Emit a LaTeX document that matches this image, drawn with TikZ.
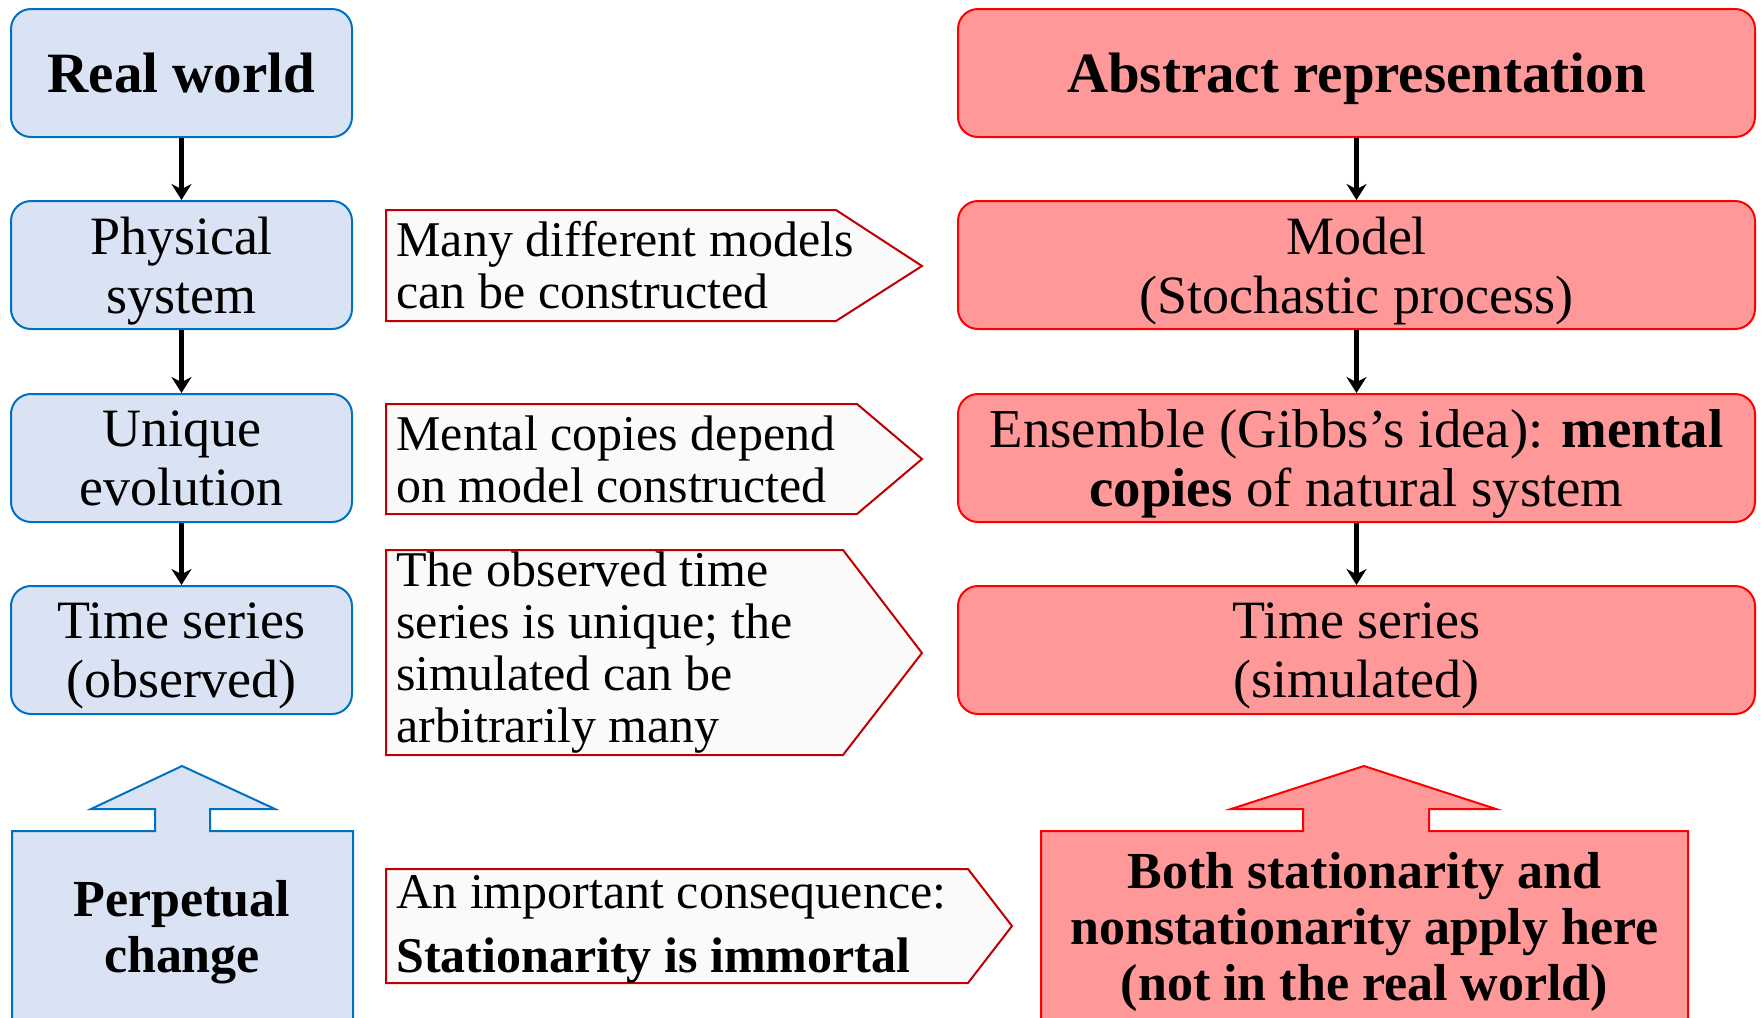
\documentclass[tikz,border=0pt]{standalone}
\usepackage{fontspec}
\setmainfont{Liberation Serif}
\usetikzlibrary{arrows.meta}
\definecolor{realfill}{HTML}{DAE3F3}
\definecolor{realline}{HTML}{0070C0}
\definecolor{absfill}{HTML}{FF9999}
\definecolor{absline}{HTML}{FF0000}
\definecolor{notefill}{HTML}{FAFAFA}
\definecolor{noteline}{HTML}{C00000}

\begin{document}
\begin{tikzpicture}[x=0.5pt,y=-0.5pt,
	realbox/.style={draw=realline, fill=realfill, line width=1pt, rounded corners=10pt,
		minimum width=170.5pt, minimum height=64pt, align=center, text depth=0pt,
		font=\fontsize{27}{29.5}\selectfont},
	absbox/.style={realbox, draw=absline, fill=absfill, minimum width=398.5pt},
	titletext/.style={font=\fontsize{28.5}{30}\selectfont\bfseries},
	note/.style={draw=noteline, fill=notefill, line width=1pt},
	notetext/.style={anchor=west, inner sep=0pt, align=left, font=\fontsize{25}{26}\selectfont},
	bigtext/.style={inner sep=0pt, align=center, font=\fontsize{26}{28}\selectfont\bfseries},
	flow/.style={-{Stealth[length=8pt,width=10pt]}, line width=2.6pt}]

	\useasboundingbox (0,0) rectangle (1763,1018);
	\clip (0,0) rectangle (1763,1018);

	% real world column
	\node [realbox, titletext] (real) at (181.5,73) {Real world};
	\node [realbox] (phys) at (181.5,265) {Physical\\system};
	\node [realbox] (uniq) at (181.5,458) {Unique\\evolution};
	\node [realbox] (obs) at (181.5,650) {Time series\\(observed)};

	% abstract column
	\node [absbox, titletext] (abs) at (1356.5,73) {Abstract representation};
	\node [absbox] (model) at (1356.5,265) {Model\\(Stochastic process)};
	\node [absbox, font=\fontsize{27.4}{29.5}\selectfont] (ens) at (1356.5,458) {Ensemble (Gibbs’s idea): \textbf{mental}\\\textbf{copies} of natural system};
	\node [absbox] (sim) at (1356.5,650) {Time series\\(simulated)};

	\draw [flow] (real.south) -- (phys.north);
	\draw [flow] (phys.south) -- (uniq.north);
	\draw [flow] (uniq.south) -- (obs.north);
	\draw [flow] (abs.south) -- (model.north);
	\draw [flow] (model.south) -- (ens.north);
	\draw [flow] (ens.south) -- (sim.north);

	% notes in the middle
	\draw [note] (386,210) -- (836,210) -- (922,266) -- (836,321) -- (386,321) -- cycle;
	\node [notetext] (models) at (396,265.5) {Many different models\\can be constructed};
	\draw [note] (386,404) -- (857,404) -- (922,459) -- (857,514) -- (386,514) -- cycle;
	\node [notetext] (copies) at (396,459) {Mental copies depend\\on model constructed};
	\draw [note] (386,550) -- (843,550) -- (922,653) -- (843,755) -- (386,755) -- cycle;
	\node [notetext] (unique) at (396,652.5) {The observed time\\series is unique; the\\simulated can be\\arbitrarily many};
	\draw [note] (386,869) -- (968,869) -- (1012,926) -- (968,983) -- (386,983) -- cycle;
	\node [notetext, font=\fontsize{25}{32}\selectfont] (immortal) at (396,929) {An important consequence:\\\textbf{Stationarity is immortal}};

	% block arrows at the bottom
	\draw [draw=realline, fill=realfill, line width=1pt] (12,1040) -- (12,831) -- (155,831) -- (155,809) -- (91,809)
		-- (182,766) -- (275,809) -- (210,809) -- (210,831) -- (353,831) -- (353,1040) -- cycle;
	\node [bigtext] (change) at (182,932) {Perpetual\\change};
	\draw [draw=absline, fill=absfill, line width=1pt] (1041,1040) -- (1041,831) -- (1303,831) -- (1303,809) -- (1231,809)
		-- (1364,766) -- (1496,809) -- (1429,809) -- (1429,831) -- (1688,831) -- (1688,1040) -- cycle;
	\node [bigtext] (both) at (1364.5,932) {Both stationarity and\\nonstationarity apply here\\(not in the real world)};
\end{tikzpicture}
\end{document}
